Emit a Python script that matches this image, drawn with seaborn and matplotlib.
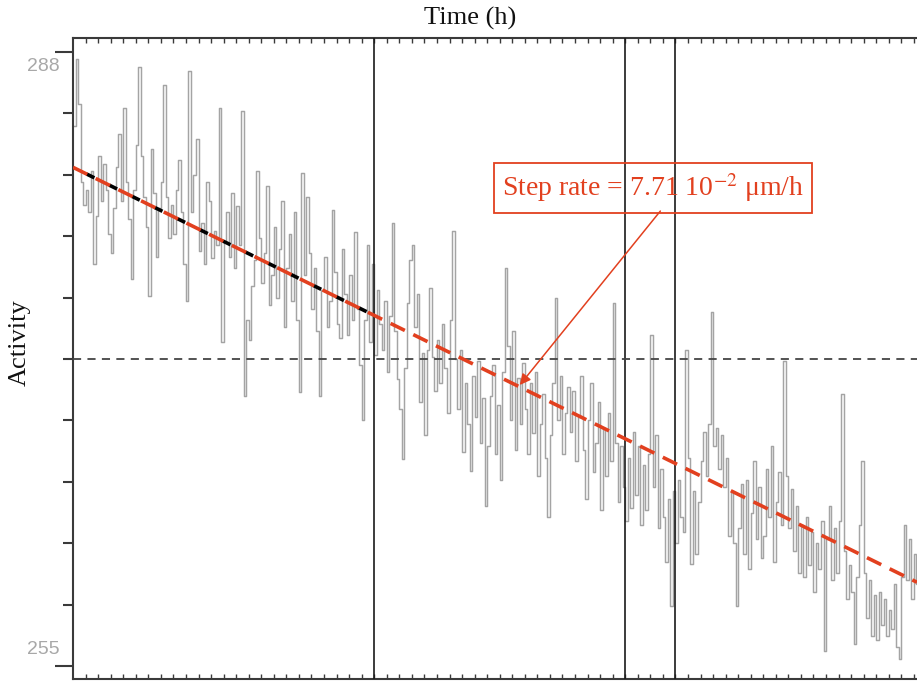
import numpy as np
import pandas as pd
import matplotlib
matplotlib.use("Agg")
import matplotlib.pyplot as plt
import matplotlib.transforms as mtransforms
import seaborn as sns

# Activity record, one reading every 0.2 h
activity = [
    284.0, 287.6, 285.2, 281.0, 279.8, 280.6, 279.4, 281.6, 276.6, 279.2,
    282.4, 280.0, 282.0, 280.6, 278.2, 277.2, 279.6, 281.8, 283.6, 280.0,
    285.0, 281.0, 279.0, 275.8, 280.6, 283.0, 287.2, 282.4, 280.2, 278.6,
    274.9, 282.8, 280.4, 277.0, 279.6, 281.0, 286.2, 280.2, 278.0, 279.8,
    278.2, 280.6, 282.2, 279.4, 276.6, 274.6, 287.0, 279.4, 281.4, 283.3,
    277.3, 278.8, 276.6, 281.0, 280.0, 276.9, 278.4, 277.6, 285.0, 272.4,
    277.8, 279.4, 277.0, 280.4, 276.4, 279.7, 277.6, 284.8, 269.5, 273.6,
    272.5, 275.4, 276.8, 281.6, 278.0, 275.6, 277.2, 280.8, 274.4, 276.0,
    278.6, 274.8, 277.4, 280.0, 273.2, 276.4, 278.2, 274.6, 279.4, 273.6,
    269.7, 281.5, 276.0, 280.2, 277.2, 274.2, 276.4, 273.0, 269.5, 275.2,
    277.0, 273.2, 274.6, 279.5, 276.2, 273.4, 272.6, 277.4, 275.0, 272.8,
    276.0, 273.6, 278.3, 274.2, 271.2, 268.2, 273.6, 277.6, 272.4, 276.6,
    271.7, 275.2, 273.4, 272.0, 274.6, 270.8, 273.8, 278.8, 273.0, 270.4,
    268.8, 266.1, 271.0, 274.5, 276.8, 277.6, 273.2, 275.0, 269.2, 271.8,
    267.4, 272.0, 275.3, 271.6, 269.8, 272.5, 270.2, 273.4, 271.0, 268.6,
    273.6, 278.4, 271.5, 268.8, 272.0, 266.5, 270.2, 268.0, 265.5, 270.6,
    268.4, 271.4, 267.0, 269.4, 263.6, 266.8, 269.5, 271.2, 266.4, 269.0,
    265.0, 270.8, 276.4, 272.2, 268.2, 273.0, 266.6, 270.5, 268.0, 271.3,
    268.8, 266.4, 270.2, 267.5, 270.8, 265.2, 268.0, 269.6, 266.2, 263.0,
    267.4, 270.2, 274.8, 268.2, 270.6, 266.4, 268.6, 270.0, 267.6, 269.8,
    266.0, 268.4, 270.6, 266.6, 264.0, 268.2, 270.2, 265.4, 267.0, 269.2,
    263.4, 267.8, 265.2, 268.6, 266.0, 274.5, 267.0, 263.8, 266.8, 264.6,
    262.8, 266.2, 263.5, 267.6, 264.2, 266.8, 262.6, 265.8, 263.4, 266.4,
    272.8, 264.6, 267.4, 262.4, 265.6, 263.0, 260.6, 264.0, 258.2, 264.4,
    261.6, 265.0, 263.0, 262.2, 272.0, 266.2, 260.5, 264.4, 261.0, 263.8,
    266.0, 267.6, 265.2, 268.0, 274.0, 266.8, 267.8, 265.6, 267.4, 264.6,
    266.2, 262.0, 264.4, 261.6, 258.2, 262.4, 264.8, 261.0, 265.0, 260.2,
    263.2, 266.0, 261.8, 264.6, 260.8, 262.0, 265.6, 263.0, 266.8, 260.6,
    263.8, 265.4, 262.6, 271.4, 265.2, 262.4, 264.5, 261.2, 263.6, 260.0,
    262.6, 259.8, 263.0, 260.4, 262.2, 259.0, 261.6, 260.2, 262.8, 255.8,
    261.8, 263.6, 259.6, 262.4, 260.0, 262.8, 269.6, 261.2, 258.6, 260.4,
    259.0, 256.2, 259.8, 262.6, 266.0, 260.0, 257.6, 259.6, 256.6, 258.8,
    256.4, 259.0, 257.2, 258.6, 256.6, 258.0, 257.0, 259.4, 256.0, 255.4,
    259.8, 262.6, 259.6, 261.8, 258.6, 261.0, 259.4,
]
sample_step_h = 0.2
time_h = np.arange(len(activity)) * sample_step_h

# Fitted step trend (endpoints) and the fit window drawn in black underneath
trend_time = [0.0, 67.25]
trend_activity = [281.8, 259.5]
fit_window_end = 23.5

reference_level = 271.5
event_times = [24, 44, 48]
y_labels = {"288": 287.2, "255": 255.9}

red = "#e2401f"

sns.set_theme(style="white")
plt.rcParams["font.family"] = ["Liberation Serif", "DejaVu Serif"]
plt.rcParams["mathtext.fontset"] = "stix"

fig = plt.figure(figsize=(9.17, 6.82), dpi=100)
ax = fig.add_axes([73 / 917, 3 / 682, 844 / 917, 641 / 682])

df = pd.DataFrame({"Time (h)": time_h, "Activity": activity})
sns.lineplot(data=df, x="Time (h)", y="Activity", ax=ax, color="#a4a4a4",
             linewidth=1.05, drawstyle="steps-post", estimator=None,
             legend=False, zorder=2)

for t in event_times:
    ax.axvline(t, color="#1a1a1a", linewidth=1.2, zorder=3)
ax.axhline(reference_level, color="#444444", linewidth=1.3,
           linestyle=(0, (4.5, 3.5)), zorder=3)

# black dashes of the fit window sit in the gaps of the red trend dashes
fit_df = pd.DataFrame({
    "t": [trend_time[0], fit_window_end],
    "a": [trend_activity[0], np.interp(fit_window_end, trend_time, trend_activity)],
})
sns.lineplot(data=fit_df, x="t", y="a", ax=ax, color="black", linewidth=2.6,
             linestyle=(2.8, (2.4, 4.6)), legend=False, zorder=4)
trend_df = pd.DataFrame({"t": trend_time, "a": trend_activity})
sns.lineplot(data=trend_df, x="t", y="a", ax=ax, color=red, linewidth=2.6,
             linestyle=(0, (4.4, 2.6)), legend=False, zorder=5)

ax.set_xlim(0, 67.25)
ax.set_ylim(254.3, 288.75)

ax.spines["right"].set_visible(False)
for s in ("left", "top", "bottom"):
    ax.spines[s].set_color("#3a3a3a")
    ax.spines[s].set_linewidth(1.5)

ax.set_xticks(np.arange(1, 68))
ax.tick_params(axis="x", which="major", direction="in", length=3.5, width=1,
               color="#3a3a3a", top=True, bottom=True,
               labelbottom=False, labeltop=False)
ax.set_yticks([255, 288])
ax.set_yticks(np.linspace(255, 288, 11)[1:-1], minor=True)
ax.tick_params(axis="y", which="major", direction="out", length=13, width=1.5,
               color="#3a3a3a", left=True, labelleft=False)
ax.tick_params(axis="y", which="minor", direction="out", length=7, width=1.5,
               color="#3a3a3a", left=True)

lab_tr = mtransforms.blended_transform_factory(ax.transAxes, ax.transData)
for txt, yv in y_labels.items():
    ax.text(-0.0154, yv, txt, transform=lab_tr, ha="right", va="center",
            fontsize=14, color="#a8a8a8", family=["Liberation Sans"])

ax.set_xlabel("Time (h)", fontsize=19, color="#111111")
ax.xaxis.set_label_position("top")
ax.xaxis.set_label_coords(0.470, 1.031)
ax.xaxis.label.set_va("center")
ax.set_ylabel("Activity", fontsize=19, color="#111111")
ax.yaxis.set_label_coords(-0.0628, 0.524)
ax.yaxis.label.set_va("center")
ax.yaxis.label.set_ha("center")

ax.text(46.2, 280.7, r"Step rate = 7.71 10$^{\mathsf{-}2}$ μm/h", color=red,
        fontsize=20, ha="center", va="center", zorder=6,
        bbox=dict(boxstyle="square,pad=0.3", fc="none", ec=red, lw=1.3))
ax.annotate("", xy=(35.6, 270.1), xytext=(46.8, 279.45),
            arrowprops=dict(arrowstyle="-|>", color=red, lw=1.1,
                            mutation_scale=16, shrinkA=0, shrinkB=0),
            zorder=6)

fig.savefig("out.png", dpi=100)
